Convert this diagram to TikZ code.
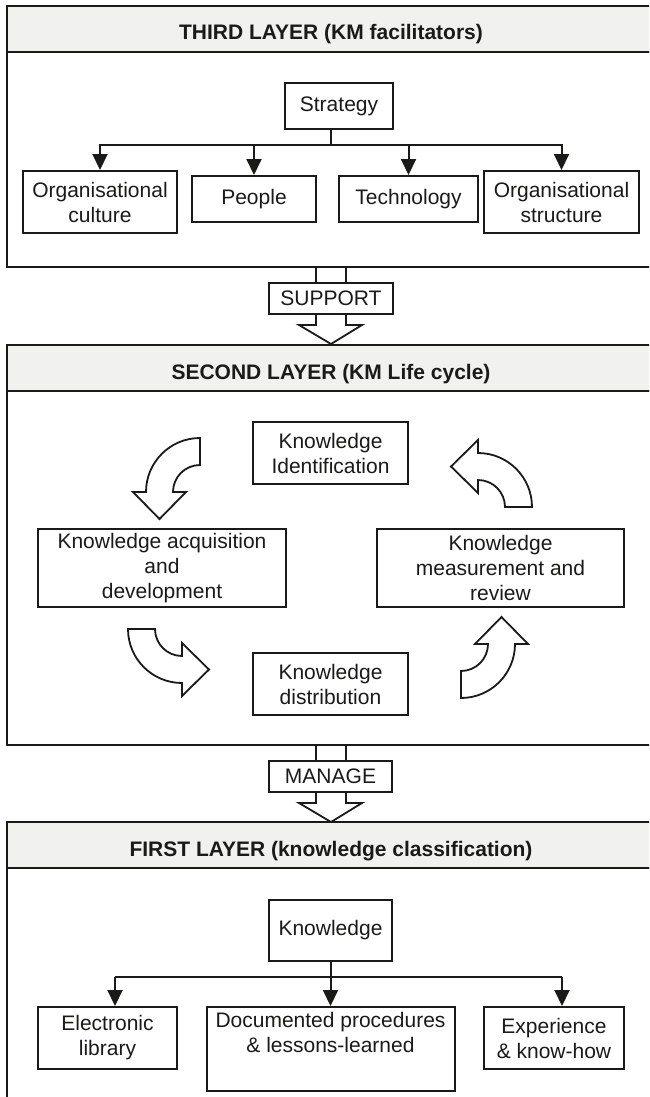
\documentclass[tikz,border=0pt]{standalone}
\usepackage{fontspec}
\setmainfont{Liberation Sans}
\usetikzlibrary{calc, arrows.meta}
\definecolor{ln}{HTML}{1A1A18}
\definecolor{hd}{HTML}{F1F1EF}
\newcommand{\bodyfont}{\fontsize{21}{25}\selectfont}

\tikzset{
	box/.style={draw=ln, line width=2pt, fill=white, align=center, inner sep=0pt, font=\bodyfont, text=ln},
	layer/.style={draw=ln, line width=2pt},
	headtext/.style={anchor=base, font=\bodyfont\bfseries, text=ln},
	branch/.style={draw=ln, line width=2pt},
	link/.style={draw=ln, line width=2pt, -{Triangle[length=16pt, width=15pt]}},
	fat/.style={draw=ln, line width=1.8pt, fill=white, line join=miter},
}

\def\rin{27}
\def\rout{54}
\def\rmid{40.5}

% quarter-ring arrow: centre, start angle
\newcommand{\cyclearrow}[2]{%
	\draw[fat] ($(#1)+(#2:\rout)$) arc[start angle=#2, delta angle=-90, radius=\rout]
		-- ($(#1)+(#2-90:\rout+13)$) -- ($(#1)+(#2-90:\rmid)+(#2-180:27)$)
		-- ($(#1)+(#2-90:\rin-13)$) -- ($(#1)+(#2-90:\rin)$)
		arc[start angle=#2-90, delta angle=90, radius=\rin] -- cycle;
}

\begin{document}
\begin{tikzpicture}[x=1pt, y=-1pt]
	\useasboundingbox (0,0) rectangle (649,1097);
	\clip (0,0) rectangle (649,1097);
	\fill[white] (0,0) rectangle (649,1097);

	% support / manage
	\draw[fat] (316,267) -- (316,325) -- (299,325) -- (331,344) -- (362,325) -- (346,325) -- (346,267);
	\draw[fat] (316,745) -- (316,803) -- (299,803) -- (331,822) -- (362,803) -- (346,803) -- (346,745);

	% layers
	\foreach \t/\h/\b in {6/52/267, 345/391/745, 822/868/1130}{
		\filldraw[layer, fill=hd] (7,\t) rectangle (665,\h);
		\draw[layer] (7,\h) rectangle (665,\b);
	}

	\node[headtext] (t3) at (331,40) {THIRD LAYER (KM facilitators)};
	\node[headtext] (t2) at (331,379) {SECOND LAYER (KM Life cycle)};
	\node[headtext] (t1) at (331,856) {FIRST LAYER (knowledge classification)};

	\node[box, minimum width=124pt, minimum height=31pt] (sup) at (331,298.5) {SUPPORT};
	\node[box, minimum width=123pt, minimum height=31pt] (man) at (330.5,776.5) {MANAGE};

	% third layer
	\node[box, minimum width=108pt, minimum height=46pt] (strat) at (339,106) {Strategy};
	\node[box, minimum width=154pt, minimum height=62pt] (cult) at (100,202) {Organisational\\culture};
	\node[box, minimum width=124pt, minimum height=46pt] (ppl) at (254,199) {People};
	\node[box, minimum width=139pt, minimum height=46pt] (tech) at (408.5,199) {Technology};
	\node[box, minimum width=155pt, minimum height=62pt] (struc) at (561.5,202) {Organisational\\structure};

	\coordinate (br3) at (331,145);
	\draw[branch] (strat.south -| br3) -- (br3);
	\foreach \n in {cult, ppl, tech, struc}
		\draw[link] (br3) -| (\n.north);

	% second layer
	\node[box, minimum width=155pt, minimum height=62pt] (kid) at (330.5,453) {Knowledge\\Identification};
	\node[box, minimum width=248pt, minimum height=78pt] (kad) at (162,568) {Knowledge acquisition\\and\\development};
	\node[box, minimum width=247pt, minimum height=78pt] (kmr) at (500.5,568) {Knowledge\\measurement and\\review};
	\node[box, minimum width=155pt, minimum height=62pt] (kdi) at (330.5,684) {Knowledge\\distribution};

	\coordinate (ca1) at (200,492);
	\coordinate (ca2) at (182,629);
	\coordinate (ca3) at (461,644);
	\coordinate (ca4) at (478,507);

	\cyclearrow{ca1}{270}
	\cyclearrow{ca2}{180}
	\cyclearrow{ca3}{90}
	\cyclearrow{ca4}{0}

	% first layer
	\node[box, minimum width=123pt, minimum height=61pt] (know) at (330.5,930.5) {Knowledge};
	\node[box, minimum width=139pt, minimum height=62pt] (elib) at (107.5,1038) {Electronic\\library};
	\node[box, minimum width=248pt, minimum height=84pt] (docp) at (330.5,1049) {Documented procedures\\\& lessons-learned\\\strut};
	\node[box, minimum width=140pt, minimum height=62pt] (exp) at (554,1038) {Experience\\\& know-how};

	\coordinate (br1l) at (115,977);
	\coordinate (br1r) at (562,977);
	\draw[branch] (br1l) -- (br1r);
	\draw[link] (know.south) -- (know.south |- docp.north);
	\draw[link] (br1l) -- (br1l |- elib.north);
	\draw[link] (br1r) -- (br1r |- exp.north);
\end{tikzpicture}
\end{document}
